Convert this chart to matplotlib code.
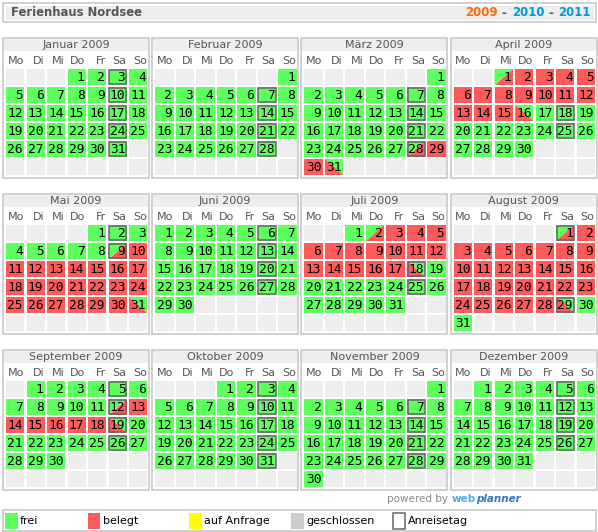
import calendar
import datetime
import matplotlib
matplotlib.use("Agg")
import matplotlib.pyplot as plt
from matplotlib.patches import Rectangle, Polygon

# calendar data
year = 2009
month_names = ["Januar", "Februar", "März", "April", "Mai", "Juni",
               "Juli", "August", "September", "Oktober", "November", "Dezember"]
weekdays = ["Mo", "Di", "Mi", "Do", "Fr", "Sa", "So"]
# bookings: arrival day -> departure day
arrivals = ["2009-03-28", "2009-04-01", "2009-05-09", "2009-07-02", "2009-08-01", "2009-09-12"]
departures = ["2009-03-31", "2009-04-16", "2009-05-31", "2009-07-18", "2009-08-29", "2009-09-19"]
changeover_weekday = 5  # Saturday = Anreisetag
year_links = ["2009", "2010", "2011"]
legend_labels = ["frei", "belegt", "auf Anfrage", "geschlossen", "Anreisetag"]

GREEN = "#5cff5c"
RED = "#ff5a5a"
YELLOW = "#ffff00"
CLOSED = "#cccccc"
EMPTY = "#eeeeee"
BORDER = "#c4c4c4"
DARK = "#666666"
TXT = "#555555"

arr = [datetime.date.fromisoformat(s) for s in arrivals]
dep = [datetime.date.fromisoformat(s) for s in departures]


def status(d):
    if d in arr:
        return "arr"
    if d in dep:
        return "dep"
    for a, b in zip(arr, dep):
        if a < d < b:
            return "booked"
    return "free"


fig = plt.figure(figsize=(5.98, 5.32), dpi=100)
ax = fig.add_axes([0, 0, 1, 1])
ax.set_xlim(0, 598)
ax.set_ylim(532, 0)
ax.axis("off")

# header
ax.add_patch(Rectangle((3, 3), 593, 19, fc="white", ec=BORDER, lw=1.1))
ax.add_patch(Rectangle((5.5, 5.5), 588, 14, fc=EMPTY, ec="none"))
ax.text(11, 13, "Ferienhaus Nordsee", fontsize=8.4, fontweight="bold", color=TXT,
        va="center", ha="left")
xs = [465, 512, 558]
for i, (x, y_txt) in enumerate(zip(xs, year_links)):
    ax.text(x, 13, y_txt, fontsize=8.5, fontweight="bold",
            color="#ff6a00" if i == 0 else "#0099dd", va="center", ha="left")
for x in [504, 551]:
    ax.text(x, 13, "-", fontsize=8.5, fontweight="bold", color=TXT, va="center", ha="center")

cell_w, cell_h = 18.4, 16
for m in range(12):
    px = 3 + 149.2 * (m % 4)
    py = 38 + 156 * (m // 4)
    ax.add_patch(Rectangle((px, py), 146, 140, fc="white", ec=BORDER, lw=1.1))
    ax.add_patch(Rectangle((px + 1, py + 1), 144, 11.5, fc=EMPTY, ec="none"))
    ax.text(px + 73, py + 7.3, f"{month_names[m]} {year}", fontsize=8, color=TXT,
            ha="center", va="center")
    for c, wd in enumerate(weekdays):
        ax.text(px + 3 + 20.5 * c + cell_w - 0.5, py + 23, wd, fontsize=8, color=TXT,
                ha="right", va="center")
    weeks = calendar.Calendar(0).monthdayscalendar(year, m + 1)
    while len(weeks) < 6:
        weeks.append([0] * 7)
    for r, week in enumerate(weeks):
        for c, day in enumerate(week):
            x = px + 3 + 20.5 * c
            y = py + 31 + 18 * r
            if day == 0:
                ax.add_patch(Rectangle((x, y), cell_w, cell_h, fc=EMPTY, ec="none"))
                continue
            st = status(datetime.date(year, m + 1, day))
            if st == "free":
                ax.add_patch(Rectangle((x, y), cell_w, cell_h, fc=GREEN, ec="none"))
            elif st == "booked":
                ax.add_patch(Rectangle((x, y), cell_w, cell_h, fc=RED, ec="none"))
            elif st == "arr":
                ax.add_patch(Polygon([(x, y), (x + cell_w, y), (x, y + cell_h)],
                                     fc=GREEN, ec="none"))
                ax.add_patch(Polygon([(x + cell_w, y), (x + cell_w, y + cell_h), (x, y + cell_h)],
                                     fc=RED, ec="none"))
            else:
                ax.add_patch(Polygon([(x, y), (x + cell_w, y), (x + cell_w, y + cell_h)],
                                     fc=GREEN, ec="none"))
                ax.add_patch(Polygon([(x, y), (x + cell_w, y + cell_h), (x, y + cell_h)],
                                     fc=RED, ec="none"))
            if c == changeover_weekday and st != "booked":
                ax.add_patch(Rectangle((x + 0.6, y + 0.6), cell_w - 1.2, cell_h - 1.2,
                                       fc="none", ec=DARK, lw=1.1))
            ax.text(x + cell_w - 1.5, y + cell_h / 2 + 0.5, str(day), fontsize=9.3,
                    family="DejaVu Sans Mono", color="black", ha="right", va="center")

# powered by
ax.text(387, 499, "powered by", fontsize=7.5, color="#888888", ha="left", va="center")
ax.text(452, 499, "web", fontsize=7.5, color="#55aadd", fontweight="bold", ha="left", va="center")
ax.text(476, 499, "planner", fontsize=7.5, color="#3377bb", fontweight="bold",
        style="italic", ha="left", va="center")

# legend
ax.add_patch(Rectangle((3, 510), 593, 21, fc="white", ec=BORDER, lw=1.1))
sw_colors = [GREEN, RED, YELLOW, CLOSED, "white"]
sw_x = [5, 87.5, 189, 291, 392.5]
for x, col, lab in zip(sw_x, sw_colors, legend_labels):
    ec = DARK if col == "white" else "none"
    ax.add_patch(Rectangle((x, 513), 12.5, 15.5, fc=col, ec=ec, lw=1.1))
    ax.text(x + 15, 521, lab, fontsize=8, color="black", ha="left", va="center")

fig.savefig("out.png", dpi=100)
